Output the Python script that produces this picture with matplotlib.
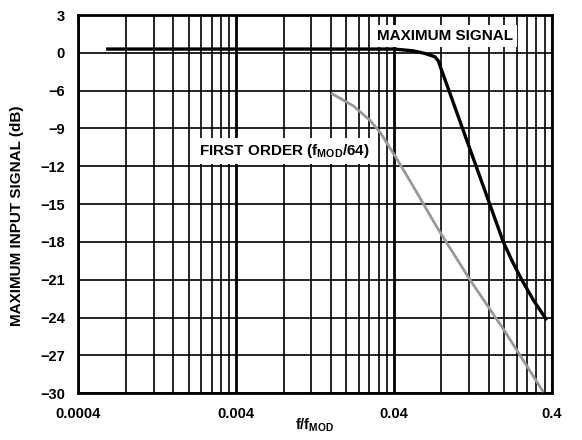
import numpy as np
import matplotlib.pyplot as plt

plt.rcParams["font.family"] = ["Liberation Sans", "DejaVu Sans"]
plt.rcParams["font.weight"] = "bold"
plt.rcParams["mathtext.fontset"] = "custom"
plt.rcParams["mathtext.rm"] = "Liberation Sans:bold"
plt.rcParams["mathtext.it"] = "Liberation Sans:bold"
plt.rcParams["mathtext.bf"] = "Liberation Sans:bold"

# Values (x = f/fMOD, y = dB as labelled on the axis)
max_freq = [0.0006, 0.04, 0.053, 0.063, 0.0728, 0.0764, 0.0795,
            0.1974, 0.2232, 0.2583, 0.3058, 0.3718]
max_db = [0.3, 0.3, 0.16, -0.1, -0.63, -1.27, -2.48,
          -18.0, -19.45, -21.0, -22.6, -24.2]

first_freq = [0.016, 0.0221, 0.0282, 0.0327, 0.0417, 0.0531,
              0.0747, 0.1214, 0.1974, 0.354]
first_db = [-6.2, -7.2, -8.35, -9.3, -11.4, -13.6,
            -16.8, -21.0, -24.9, -29.9]

x_major = [0.0004, 0.004, 0.04, 0.4]
x_labels = ["0.0004", "0.004", "0.04", "0.4"]
grid_steps = [2, 3, 4, 5, 6, 7, 8, 9]

# axis is labelled 3, 0, -6, -9 ... on equally spaced lines
y_labels = [3, 0, -6, -9, -12, -15, -18, -21, -24, -27, -30]


def main():
    y_pos = 3 - 3 * np.arange(len(y_labels))

    def to_axis(db):
        return np.interp(db, y_labels[::-1], y_pos[::-1])

    fig = plt.figure(figsize=(5.82, 4.40), dpi=100)
    ax = fig.add_axes([0.1345, 0.1061, 0.8135, 0.8598])

    ax.set_xscale("log")
    ax.set_xlim(x_major[0], x_major[-1])
    ax.set_ylim(y_pos[-1], y_pos[0])

    minor = [k * m for m in x_major[:-1] for k in grid_steps]
    ax.set_xticks(x_major, x_labels)
    ax.set_xticks(minor, [""] * len(minor), minor=True)
    ax.set_yticks(y_pos, [str(v).replace("-", "\u2212") for v in y_labels])
    ax.tick_params(which="both", length=0, labelsize=10.5)
    ax.tick_params(axis="x", pad=10)
    ax.tick_params(axis="y", pad=9.5)

    ax.grid(which="major", axis="x", color="black", lw=2.0)
    ax.grid(which="minor", axis="x", color="black", lw=1.2)
    ax.grid(which="major", axis="y", color="black", lw=1.2)
    for s in ax.spines.values():
        s.set_linewidth(2.0)

    ax.plot(max_freq, to_axis(max_db), color="black", lw=2.4,
            solid_capstyle="butt", solid_joinstyle="round", zorder=3)
    ax.plot(first_freq, to_axis(first_db), color="#999999", lw=2.0,
            solid_capstyle="butt", solid_joinstyle="round", zorder=3)

    box = dict(facecolor="white", edgecolor="none", pad=3)
    ax.text(0.630, 0.934, "MAXIMUM SIGNAL", transform=ax.transAxes,
            fontsize=11, ha="left", va="baseline", bbox=box, zorder=4)
    ax.text(0.255, 0.630, r"FIRST ORDER (f$_{\mathrm{MOD}}$/64)",
            transform=ax.transAxes, fontsize=11, ha="left",
            va="baseline", bbox=box, zorder=4)

    fig.text(0.029, 1 - 216 / 440, "MAXIMUM INPUT SIGNAL (dB)",
             rotation=90, ha="center", va="center", fontsize=11)
    fig.text(0.5413, 1 - 417 / 440, r"f/f$_{\mathrm{MOD}}$",
             ha="center", va="top", fontsize=10.5)

    fig.savefig("out.png", dpi=100)


if __name__ == "__main__":
    main()
